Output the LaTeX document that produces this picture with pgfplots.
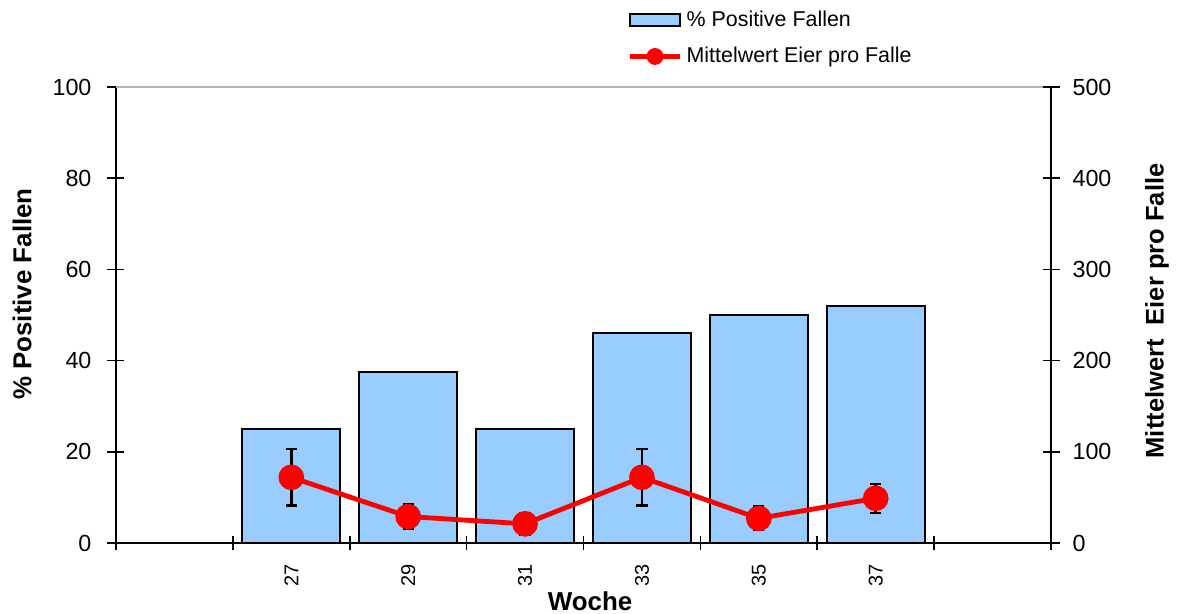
\documentclass[border=0pt]{standalone}
\usepackage{fontspec}
\setmainfont{Liberation Sans}
\usepackage{pgfplots}
\pgfplotsset{compat=1.18}
\definecolor{barblue}{RGB}{153,204,255}
\pgfplotstableread{
x y
1 25
2 37.5
3 25
4 46
5 50
6 52
}\bardata
\pgfplotstableread{
x y e
1 72 31
2 29 13
3 21 11.5
4 72 31
5 27 13
6 49 16
}\linedata
\pgfplotsset{
  barlegend/.style={legend image code/.code={\draw[fill=barblue, draw=black, line width=1bp] (0bp,-3bp) rectangle (25bp,3bp);}},
  linelegend/.style={legend image code/.code={\draw[red, line width=2.2bp] (0bp,0bp) -- (25bp,0bp); \fill[red] (12.5bp,0bp) circle (3bp);}},
}
\begin{document}
\begin{tikzpicture}
\begin{axis}[
  at={(0,0)}, anchor=south west,
  scale only axis, width=467.5bp, height=228bp,
  xmin=-0.5, xmax=7.5, ymin=0, ymax=100,
  axis y line*=left, axis x line*=bottom,
  axis line style={line width=1bp, black},
  every tick/.style={black, line width=0.8bp},
  tick align=center,
  major tick length=8.5bp, minor tick length=7bp,
  ytick={0,20,...,100},
  xtick={1,...,6}, xticklabels={27,29,31,33,35,37},
  minor xtick={-0.5,0.5,...,7.5},
  x tick style={draw=none},
  minor x tick style={draw=black, line width=0.8bp},
  /pgf/number format/assume math mode=true,
  yticklabel style={font=\fontsize{11.7}{12}\selectfont, xshift=-4.5bp},
  xticklabel style={yshift=-3bp, rotate=90, anchor=east, font=\fontsize{10}{10}\selectfont},
  ylabel={\% Positive Fallen},
  xlabel={Woche},
  label style={font=\fontsize{13}{14}\selectfont\bfseries},
  ylabel style={at={(axis description cs:-0.1005,0.546)}, anchor=center},
  xlabel style={at={(axis description cs:0.507,-0.127)}, anchor=center},
  clip=false,
]
\addplot[ybar, bar width=49bp, fill=barblue, draw=black, line width=1bp] table[x=x,y=y]{\bardata};
\draw[gray!60, line width=0.6bp] (rel axis cs:0,1) -- (rel axis cs:1,1);
\end{axis}
\begin{axis}[
  at={(0,0)}, anchor=south west,
  scale only axis, width=467.5bp, height=228bp,
  xmin=-0.5, xmax=7.5, ymin=0, ymax=500,
  axis y line*=right, axis x line=none,
  axis line style={line width=1bp, black},
  every tick/.style={black, line width=0.8bp},
  tick align=center,
  major tick length=8.5bp,
  ytick={0,100,...,500},
  /pgf/number format/assume math mode=true,
  yticklabel style={font=\fontsize{11.7}{12}\selectfont, xshift=3bp},
  ylabel={Mittelwert\ \ Eier pro Falle},
  ylabel style={font=\fontsize{12.8}{14}\selectfont\bfseries, at={(axis description cs:1.1134,0.509)}, anchor=center},
  legend style={at={(axis description cs:0.547,1.173)}, anchor=north west, draw=none, fill=none, inner sep=0pt,
    font=\fontsize{10.75}{12}\selectfont, row sep=6.5bp, nodes={inner sep=1.2bp},
    /tikz/every odd column/.append style={column sep=1bp}},
  legend cell align=left,
  clip=false,
]
\addlegendimage{barlegend}
\addlegendentry{\% Positive Fallen}
\addplot[draw=none, mark=none, forget plot, error bars/.cd, y dir=both, y explicit,
  error bar style={draw=black, line width=1.2bp},
  error mark options={draw=black, rotate=90, mark size=2.8bp, line width=1.2bp}]
  table[x=x,y=y,y error=e]{\linedata};
\addplot[red, line width=2.4bp, mark=*, mark size=5.2bp, mark options={fill=red, draw=red}, linelegend]
  table[x=x,y=y]{\linedata};
\addlegendentry{Mittelwert Eier pro Falle}
\end{axis}
\pgfresetboundingbox
\useasboundingbox (-58bp,-35.5bp) rectangle (530.5bp,271.5bp);
\end{tikzpicture}
\end{document}
